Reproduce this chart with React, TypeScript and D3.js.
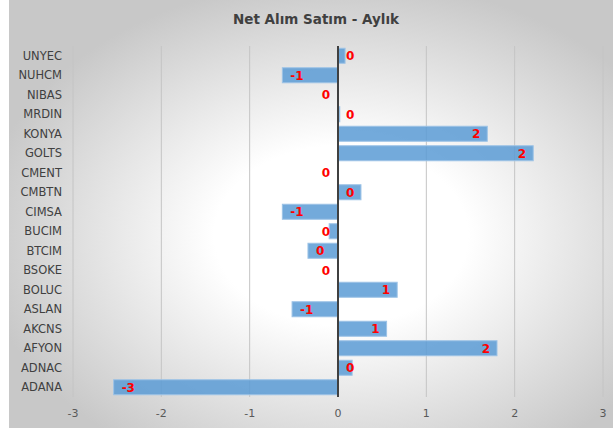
import React from "react";
import * as d3 from "d3";

const categories = [
  "UNYEC", "NUHCM", "NIBAS", "MRDIN", "KONYA", "GOLTS", "CMENT", "CMBTN", "CIMSA",
  "BUCIM", "BTCIM", "BSOKE", "BOLUC", "ASLAN", "AKCNS", "AFYON", "ADNAC", "ADANA",
];
const values = [
  0.08, -0.63, 0, 0.02, 1.69, 2.21, 0, 0.26, -0.63,
  -0.1, -0.34, 0, 0.67, -0.52, 0.55, 1.8, 0.16, -2.54,
];
const xTicks = [-3, -2, -1, 0, 1, 2, 3];
const title = "Net Alım Satım - Aylık";

const W = 613;
const H = 428;
const plot = { left: 73, right: 603, top: 46, bottom: 397 };
const font = "Tahoma, 'DejaVu Sans', Verdana, sans-serif";

export default function App() {
  const x = d3.scaleLinear().domain([-3, 3]).range([plot.left, plot.right]);
  const y = d3
    .scaleBand<string>()
    .domain(categories)
    .range([plot.top, plot.bottom])
    .paddingInner(0.23)
    .paddingOuter(0.115);
  const x0 = x(0);
  const pad = 8;
  const labelW = (s: string) => s.length * 7;

  return (
    <svg
      width={W}
      height={H}
      style={{ position: "absolute", left: 0, top: 0, fontFamily: font }}
    >
      <defs>
        <radialGradient id="bg" cx="0.55" cy="0.55" r="0.6">
          <stop offset="0" stopColor="#ffffff" />
          <stop offset="0.35" stopColor="#ffffff" />
          <stop offset="1" stopColor="#c8c8c8" />
        </radialGradient>
      </defs>
      <rect x={0} y={0} width={W} height={H} fill="#ffffff" />
      <rect x={9} y={0} width={W - 9} height={H} fill="url(#bg)" />

      <text
        x={316}
        y={24}
        textAnchor="middle"
        fontSize={13.5}
        fontWeight="bold"
        fill="#404040"
      >
        {title}
      </text>

      {xTicks.map((t) => (
        <g key={t}>
          {t !== 0 && (
            <line
              x1={x(t)}
              x2={x(t)}
              y1={plot.top}
              y2={plot.bottom}
              stroke="#c4c4c4"
              strokeWidth={1}
            />
          )}
          <text
            x={x(t)}
            y={417}
            textAnchor="middle"
            fontSize={11}
            fill="#595959"
          >
            {t}
          </text>
        </g>
      ))}

      {categories.map((c, i) => {
        const v = values[i];
        const xe = x(v);
        const bx = Math.min(x0, xe);
        const bw = Math.abs(xe - x0);
        const cy = (y(c) as number) + y.bandwidth() / 2;
        const lab = String(Math.round(v));
        const fits = bw >= labelW(lab) + 2 * pad;
        let lx: number;
        let anchor: "start" | "end";
        if (fits) {
          lx = v > 0 ? xe - pad + 1 : xe + pad;
          anchor = v > 0 ? "end" : "start";
        } else {
          lx = v > 0 ? x0 + pad : x0 - pad;
          anchor = v > 0 ? "start" : "end";
        }
        return (
          <g key={c}>
            <text
              x={62}
              y={cy}
              dy="0.36em"
              textAnchor="end"
              fontSize={11.5}
              fill="#404040"
            >
              {c}
            </text>
            {bw > 0 && (
              <rect
                x={bx}
                y={y(c)}
                width={bw}
                height={y.bandwidth()}
                fill="#5b9bd5"
                fillOpacity={0.85}
                stroke="#9dc3e6"
                strokeWidth={1}
              />
            )}
            <text
              x={lx}
              y={cy}
              dy="0.38em"
              textAnchor={anchor}
              fontSize={12}
              fontWeight="bold"
              fill="#ff0000"
            >
              {lab}
            </text>
          </g>
        );
      })}

      <line
        x1={x0}
        x2={x0}
        y1={plot.top}
        y2={plot.bottom}
        stroke="#404040"
        strokeWidth={2}
      />
    </svg>
  );
}
